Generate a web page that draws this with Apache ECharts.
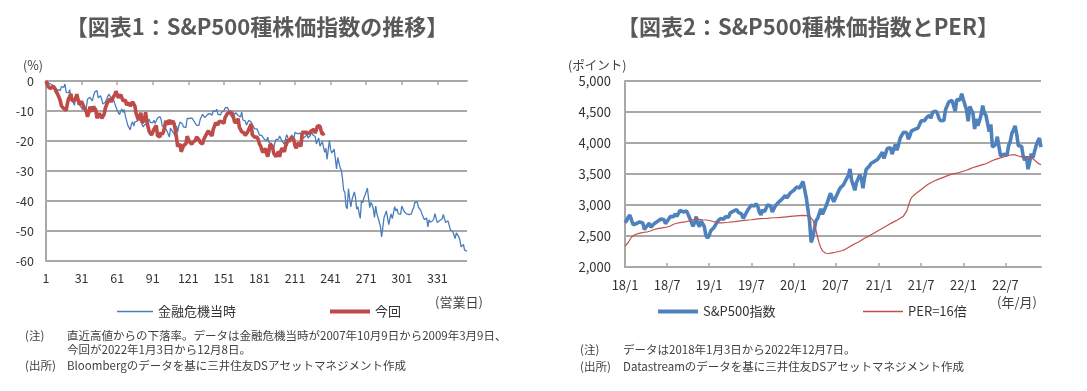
<!DOCTYPE html>
<html><head><meta charset="utf-8">
<script src="https://cdn.jsdelivr.net/npm/echarts/dist/echarts.min.js"></script>
<style>html,body{margin:0;padding:0;background:#fff}#c{width:1087px;height:391px}</style>
</head><body><div id="c"></div>
<script>
// ---------- Chart 1: drawdown from recent high (%) by business day ----------
const crisisDrawdown = [
0,-0.2,-0.6,-0.3,-1.1,-1.7,-1.5,-1.6,-4.1,-3.7,-2.9,-3.1,-3.2,-1.9,-1.5,-2.1,-1.0,
-3.7,-3.5,-4.0,-2.9,-5.8,-5.8,-7.2,-8.1,-5.3,-6.1,-7.2,-6.8,-8.4,-8.0,-9.5,-8.0,-10.1,-8.8,-6.1,-6.1,-5.4,
-6.0,-6.6,-5.1,-3.7,-3.9,-3.2,-5.6,-5.1,-4.9,-6.3,-7.7,-7.1,-7.1,-6.7,-5.2,-4.4,-4.4,-5.7,-5.6,-6.2,
-7.5,-7.5,-9.8,-9.5,-11.2,-10.0,-9.3,-10.5,-9.5,-11.8,-12.3,-14.8,-15.3,-16.3,-14.4,-13.6,-15.0,-13.6,-13.0,-13.4,-11.9,
-10.8,-11.8,-14.6,-15.3,-14.6,-15.0,-14.4,-13.8,-12.7,-13.9,-13.7,-13.9,-13.1,-14.2,-13.6,-12.4,-11.8,-11.8,-12.7,-15.0,
-15.0,-15.2,-14.8,-16.7,-17.3,-18.7,-15.7,-16.4,-15.9,-17.6,-18.4,-15.0,-17.0,-15.0,-13.7,-13.6,-14.3,-15.3,-15.9,-15.5,
-12.5,-12.6,-12.5,-12.5,-12.3,-12.8,-13.5,-13.0,-14.8,-15.1,-14.8,-12.8,-12.7,-11.1,-11.3,-12.2,-11.8,-11.3,-10.7,-10.8,-11.1,-11.4,
-10.0,-9.7,-10.1,-9.4,-11.1,-10.7,-11.3,-10.4,-10.4,-10.0,-9.0,-8.9,-8.8,-9.7,-11.1,-10.9,-12.1,-11.4,-11.1,-10.6,-10.6,
-11.5,-12.0,-12.0,-10.3,-13.0,-13.0,-13.3,-14.7,-14.4,-13.1,-13.0,-13.7,-14.5,-14.3,-15.9,-15.8,-16.0,-15.6,-18.0,-18.3,-18.2,
-17.9,-19.4,-19.4,-19.9,-18.7,-20.5,-19.9,-20.8,-21.5,-22.4,-20.5,-19.5,-19.4,-19.4,-18.3,-18.0,-20.0,-19.7,-21.1,-19.2,-17.9,-19.0,
-19.5,-20.2,-18.0,-17.6,-19.0,-17.1,-16.6,-17.6,-17.8,-17.4,-17.1,-18.3,-19.0,-18.5,-18.4,-17.5,-19.0,-18.8,-18.1,-16.9,-18.0,
-18.3,-18.5,-21.0,-20.6,-19.0,-21.7,-21.2,-20.2,-20.0,-23.8,-22.4,-26.1,-22.9,-19.8,-22.8,-24.0,-24.2,-22.7,-22.5,-29.3,-25.5,
-25.8,-28.8,-29.8,-32.5,-36.4,-37.1,-41.9,-42.6,-35.9,-36.2,-42.0,-39.6,-39.9,-37.0,-38.9,-42.7,-41.9,-44.0,-45.8,-39.9,-40.6,-39.0,-38.1,
-38.3,-35.7,-39.1,-42.2,-40.5,-41.2,-42.6,-45.5,-41.7,-44.2,-45.6,-45.1,-48.4,-52.0,-48.9,-45.6,-45.2,-43.3,-42.8,
-47.9,-45.8,-44.3,-45.9,-44.0,-41.9,-43.3,-42.6,-44.2,-43.8,-44.5,-41.7,-42.2,-43.5,-43.3,-44.3,-44.8,-44.5,-44.2,-44.4,-43.1,-42.3,
-40.5,-40.8,-40.3,-42.0,-41.9,-43.1,-44.3,-44.3,-46.2,-46.1,-45.7,-48.6,-46.3,-47.1,-46.8,-46.6,-45.9,-44.2,-45.9,-47.2,
-47.3,-46.5,-46.8,-46.0,-44.5,-44.4,-47.2,-46.7,-46.6,-47.2,-49.6,-49.6,-50.2,-50.8,-52.5,-50.6,-51.1,-51.9,-53.0,
-55.3,-55.5,-54.5,-56.4,-56.4,-56.7
];
const currentDrawdown = [
0,-0.1,-2.0,-2.1,-2.5,-2.6,-1.7,-1.5,-2.8,-2.8,-4.6,-5.5,-6.5,-8.3,-8.1,-9.2,-9.3,-9.8,-7.6,-5.9,
-5.2,-4.3,-6.6,-6.2,-6.5,-5.7,-4.4,-6.1,-7.9,-8.2,-6.8,-6.7,-8.7,-9.3,-10.3,-11.9,-10.6,-8.6,-8.8,
-10.2,-8.5,-9.0,-9.7,-12.4,-13.0,-10.8,-11.2,-12.4,-13.0,-11.1,-9.1,-8.0,-7.0,-7.0,-5.9,-7.1,-5.8,-5.3,-4.6,-3.4,-4.0,-5.6,
-5.2,-4.5,-5.6,-6.6,-6.2,-6.4,-8.0,-8.3,-7.3,-8.4,-8.5,-7.0,-7.0,-8.4,-10.9,-10.4,-13.0,-12.8,-10.6,-13.9,
-13.4,-13.0,-10.4,-13.5,-14.0,-16.8,-16.6,-18.0,-18.1,-16.1,-16.4,-14.8,-18.2,-18.7,-18.7,-17.1,-17.8,-17.0,-15.4,-13.3,-13.9,
-14.5,-12.9,-14.3,-14.1,-13.3,-14.2,-16.2,-18.7,-21.8,-22.1,-21.0,-23.6,-23.4,-21.5,-21.6,-20.9,-18.4,-18.7,-20.3,-20.4,-21.1,
-20.3,-20.1,-19.8,-18.6,-18.7,-19.6,-20.4,-20.7,-21.0,-19.5,-20.1,-17.9,-17.4,-16.6,-17.4,-17.3,-18.3,-16.1,-15.1,-13.9,
-14.1,-14.7,-13.4,-13.4,-13.6,-13.7,-14.1,-12.2,-12.3,-10.8,-10.4,-10.3,-10.9,-10.7,-11.9,-13.7,-13.9,-13.7,-12.5,-15.4,-16.0,-16.9,-17.5,
-17.3,-18.2,-18.5,-17.0,-16.5,-15.2,-14.3,-18.0,-17.7,-18.7,-19.3,-18.7,-19.6,-21.0,-21.7,-23.0,-23.8,-24.0,-22.5,-24.1,-25.2,
-23.3,-21.0,-21.1,-21.9,-24.1,-24.7,-25.2,-25.4,-23.5,-25.3,-23.3,-22.4,-23.0,-23.6,-21.8,-20.8,-19.5,-20.2,-20.6,-18.7,-19.3,
-19.6,-21.6,-22.4,-21.4,-20.6,-20.2,-21.8,-17.5,-16.8,-17.5,-16.8,-17.5,-17.7,-17.3,-17.6,-16.5,-16.0,-16.1,-17.4,-17.5,-14.9,
-15.0,-15.1,-16.6,-17.8,-18.0,-17.4
];
const chart1TickLabels = ['1','31','61','91','121','151','181','211','241','271','301','331'];

// ---------- Chart 2: S&P500 weekly (points) and PER=16x line ----------
const spx2018 = [2713,2748,2803,2837,2824,2681,2698,2701,2714,2727,2749,2711,2605,2644,2642,2708,2639,2636,2697,2722,2733,2724,2772,2775,2767,2699,2713,2774,2815,2846,2813,2858,2818,2861,2914,2888,2888,2908,2905,2925,2786,2809,2656,2712,2814,2701,2649,2744,2700,2652,2507,2468];
const spx2019 = [2510,2585,2617,2639,2681,2731,2753,2784,2792,2771,2811,2824,2805,2873,2888,2900,2927,2924,2880,2851,2856,2783,2826,2879,2926,2914,2996,2993,2985,3019,2980,2884,2840,2924,2888,2938,3001,3006,2985,2888,2919,2990,3004,3047,3077,3094,3108,3153,3113,3142,3191,3223];
const spx2020 = [3231,3253,3289,3321,3273,3334,3379,3386,3116,3130,2741,2398,2475,2471,2750,2783,2799,2939,2848,2820,2972,3036,3123,3190,3113,3050,3115,3169,3227,3276,3258,3327,3380,3375,3479,3580,3399,3385,3237,3363,3419,3489,3436,3271,3443,3573,3568,3630,3669,3673,3701,3688,3733];
const spx2021 = [3748,3809,3852,3751,3831,3910,3932,3925,3820,3899,3975,3881,3973,4080,4125,4173,4184,4168,4063,4116,4196,4208,4220,4224,4242,4298,4358,4374,4359,4400,4402,4447,4400,4496,4524,4514,4480,4395,4359,4363,4364,4537,4551,4660,4647,4689,4701,4513,4701,4709,4696,4793];
const spx2022 = [4701,4726,4533,4350,4590,4587,4476,4226,4387,4278,4358,4456,4603,4481,4447,4460,4183,4300,3935,3924,3979,4101,4116,3790,3760,3819,3845,3802,3960,4024,4155,4210,4275,4141,3955,3980,3947,3790,3719,3783,3577,3695,3830,3760,3749,3959,4028,4080,3933];
const per2018 = [2333,2360,2395,2440,2480,2505,2520,2530,2538,2545,2550,2555,2560,2563,2568,2575,2585,2595,2605,2612,2618,2622,2627,2632,2636,2640,2645,2652,2662,2675,2690,2700,2706,2712,2716,2720,2724,2728,2732,2738,2746,2755,2762,2768,2772,2770,2768,2765,2762,2760,2758,2755];
const per2019 = [2750,2744,2738,2730,2722,2716,2712,2710,2712,2715,2718,2720,2722,2725,2728,2730,2732,2736,2740,2744,2748,2750,2752,2755,2758,2760,2762,2764,2768,2772,2775,2778,2780,2782,2782,2783,2785,2787,2790,2792,2794,2795,2796,2798,2800,2802,2805,2808,2810,2812,2815,2818];
const per2020 = [2820,2822,2825,2828,2830,2832,2832,2830,2828,2825,2818,2800,2760,2690,2590,2480,2380,2310,2260,2235,2222,2215,2218,2222,2228,2232,2238,2245,2250,2256,2262,2270,2285,2300,2315,2330,2345,2360,2375,2388,2400,2415,2430,2448,2465,2480,2490,2505,2520,2535,2550,2565,2580];
const per2021 = [2600,2610,2625,2640,2655,2670,2685,2700,2715,2728,2740,2755,2770,2785,2800,2820,2850,2900,2980,3060,3120,3150,3170,3190,3210,3230,3250,3270,3290,3310,3330,3345,3360,3375,3388,3400,3410,3420,3430,3440,3450,3460,3470,3480,3490,3498,3505,3510,3515,3520,3528,3535];
const per2022 = [3545,3552,3560,3570,3582,3595,3605,3612,3620,3628,3635,3642,3650,3658,3665,3675,3690,3705,3718,3728,3736,3745,3752,3760,3768,3775,3782,3790,3798,3805,3810,3812,3808,3800,3790,3782,3776,3772,3770,3775,3780,3775,3762,3745,3725,3700,3675,3655,3648];
const firstWeek = '2018-01-03';   // weekly (Wednesday) observations

const spxWeekly = [].concat(spx2018, spx2019, spx2020, spx2021, spx2022);
const per16Weekly = [].concat(per2018, per2019, per2020, per2021, per2022);

// categories
const days = crisisDrawdown.map((_, i) => String(i + 1));
const weekDates = spxWeekly.map((_, i) => {
  const d = new Date(firstWeek + 'T00:00:00Z');
  d.setUTCDate(d.getUTCDate() + 7 * i);
  return d.toISOString().slice(0, 10);
});
function isHalfYearStart(i) {
  const m = +weekDates[i].slice(5, 7);
  if (m !== 1 && m !== 7) return false;
  return i === 0 || +weekDates[i - 1].slice(5, 7) !== m;
}
function ymLabel(v) { return v.slice(2, 4) + '/' + (+v.slice(5, 7)); }

const FF = '"Noto Sans CJK JP", "Noto Sans", sans-serif';
const TXT = '#404040';
const GRID = '#a8a8a8';
const BLUE1 = '#4a7ebb', RED1 = '#be4b48';
const BLUE2 = '#4f81bd', RED2 = '#c0504d';

function txt(x, y, s, size, align) {
  return { type: 'text', x: x, y: y, silent: true,
    style: { text: s, fill: TXT, font: size + 'px ' + FF, align: align || 'left', verticalAlign: 'middle' } };
}

const chart = echarts.init(document.getElementById('c'), null, { renderer: 'canvas' });
chart.setOption({
  animation: false,
  backgroundColor: '#fff',
  textStyle: { fontFamily: FF },
  title: [
    { text: '【図表1：S&P500種株価指数の推移】', left: 252, top: 11, textAlign: 'center',
      textStyle: { fontSize: 22, fontWeight: 'bold', color: '#595959', fontFamily: FF } },
    { text: '【図表2：S&P500種株価指数とPER】', left: 803, top: 11, textAlign: 'center',
      textStyle: { fontSize: 22, fontWeight: 'bold', color: '#595959', fontFamily: FF } }
  ],
  grid: [
    { left: 46, top: 81, width: 421, height: 180 },
    { left: 625, top: 81, width: 416, height: 186 }
  ],
  xAxis: [
    { gridIndex: 0, type: 'category', position: 'top', data: days, boundaryGap: false,
      axisLine: { onZero: false, lineStyle: { color: GRID, width: 2 } },
      axisTick: { inside: true, length: 4, interval: 29, lineStyle: { color: GRID, width: 1.5 } },
      axisLabel: { show: false }, splitLine: { show: false } },
    { gridIndex: 0, type: 'category', position: 'bottom', data: days, boundaryGap: false,
      axisLine: { show: false, onZero: false }, axisTick: { show: false },
      axisLabel: { interval: 29, margin: 11, fontSize: 12.5, color: '#333', fontFamily: FF,
        formatter: v => chart1TickLabels.includes(v) ? v : '' },
      splitLine: { show: false } },
    { gridIndex: 1, type: 'category', position: 'bottom', data: weekDates, boundaryGap: false,
      axisLine: { onZero: false, lineStyle: { color: GRID, width: 2 } },
      axisTick: { inside: true, length: 4, interval: i => isHalfYearStart(i), lineStyle: { color: GRID, width: 1.5 } },
      axisLabel: { interval: i => isHalfYearStart(i), margin: 12, fontSize: 13, color: '#333', fontFamily: FF,
        formatter: ymLabel },
      splitLine: { show: false } }
  ],
  yAxis: [
    { gridIndex: 0, type: 'value', min: -60, max: 0, interval: 10,
      axisLine: { show: true, lineStyle: { color: GRID, width: 2 } }, axisTick: { show: false },
      axisLabel: { margin: 12, fontSize: 12.5, color: '#333', fontFamily: FF },
      splitLine: { lineStyle: { color: GRID, width: 2 } } },
    { gridIndex: 1, type: 'value', min: 2000, max: 5000, interval: 500,
      axisLine: { show: true, lineStyle: { color: GRID, width: 2 } }, axisTick: { show: false },
      axisLabel: { margin: 14, fontSize: 13, color: '#333', fontFamily: FF,
        formatter: v => v.toLocaleString('en-US') },
      splitLine: { lineStyle: { color: GRID, width: 2 } } }
  ],
  legend: [
    { data: [{ name: '金融危機当時', icon: 'rect' }], left: 117, top: 305, padding: 0, itemWidth: 36, itemHeight: 1.5,
      selectedMode: false, textStyle: { fontSize: 13, color: '#333', fontFamily: FF } },
    { data: [{ name: '今回', icon: 'rect' }], left: 330, top: 305, padding: 0, itemWidth: 40, itemHeight: 4,
      selectedMode: false, textStyle: { fontSize: 13, color: '#333', fontFamily: FF } },
    { data: [{ name: 'S&P500指数', icon: 'rect' }], left: 658, top: 305, padding: 0, itemWidth: 40, itemHeight: 4,
      selectedMode: false, textStyle: { fontSize: 13, color: '#333', fontFamily: FF } },
    { data: [{ name: 'PER=16倍', icon: 'rect' }], left: 863, top: 305, padding: 0, itemWidth: 40, itemHeight: 1.5,
      selectedMode: false, textStyle: { fontSize: 13, color: '#333', fontFamily: FF } }
  ],
  series: [
    { name: '金融危機当時', type: 'line', xAxisIndex: 0, yAxisIndex: 0, data: crisisDrawdown,
      symbol: 'none', lineStyle: { color: BLUE1, width: 1.3 }, itemStyle: { color: BLUE1 }, z: 2 },
    { name: '今回', type: 'line', xAxisIndex: 0, yAxisIndex: 0, data: currentDrawdown,
      symbol: 'none', lineStyle: { color: RED1, width: 3.6 }, itemStyle: { color: RED1 }, z: 3 },
    { name: 'S&P500指数', type: 'line', xAxisIndex: 2, yAxisIndex: 1, data: spxWeekly,
      symbol: 'none', lineStyle: { color: BLUE2, width: 3.6 }, itemStyle: { color: BLUE2 }, z: 2 },
    { name: 'PER=16倍', type: 'line', xAxisIndex: 2, yAxisIndex: 1, data: per16Weekly,
      symbol: 'none', lineStyle: { color: RED2, width: 1.2 }, itemStyle: { color: RED2 }, z: 3 }
  ],
  graphic: [
    txt(23, 65, '(%)', 12.5),
    txt(435, 302, '(営業日)', 13),
    txt(25, 336, '(注)', 11.5),
    txt(67, 336, '直近高値からの下落率。データは金融危機当時が2007年10月9日から2009年3月9日、', 11.5),
    txt(67, 350, '今回が2022年1月3日から12月8日。', 11.5),
    txt(25, 366, '(出所)', 11.5),
    txt(67, 366, 'Bloombergのデータを基に三井住友DSアセットマネジメント作成', 11.5),
    txt(568, 65, '(ポイント)', 12.5),
    txt(997, 302, '(年/月)', 13),
    txt(580, 350, '(注)', 11.5),
    txt(623, 350, 'データは2018年1月3日から2022年12月7日。', 11.5),
    txt(580, 367, '(出所)', 11.5),
    txt(623, 367, 'Datastreamのデータを基に三井住友DSアセットマネジメント作成', 11.5)
  ]
});
</script></body></html>
